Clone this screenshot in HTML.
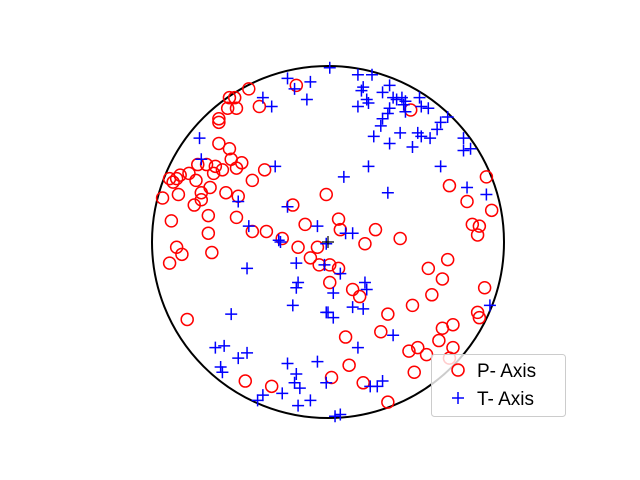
<!DOCTYPE html>
<html><head><meta charset="utf-8"><style>
body{margin:0;background:#fff;}
svg{display:block;font-family:"Liberation Sans","DejaVu Sans",sans-serif;}
</style></head><body>
<svg id="chart" width="640" height="480" viewBox="0 0 640 480">
<rect width="640" height="480" fill="#fff"/>
<circle cx="328" cy="242" r="176" fill="none" stroke="#000" stroke-width="2"/>
<g id="pts"></g>
<path d="M322 242h12M328 236v12" stroke="#000" stroke-width="1.2"/>
<g>
<rect x="431.5" y="354.5" width="134" height="62" rx="3" fill="#fff" fill-opacity="0.8" stroke="#ccc"/>
<circle cx="458" cy="370" r="6" fill="none" stroke="#f00" stroke-width="1.5"/>
<text x="477" y="377" font-size="19" fill="#000">P- Axis</text>
<path d="M452 398h12M458 392v12" stroke="#00f" stroke-width="1.5"/>
<text x="477" y="405" font-size="19" fill="#000">T- Axis</text>
</g>
</svg>
<script>
// Values in percent of primitive radius (x east, y north)
const pX=[-45,-56,-53,-57,-52,-62,-62,-39,-18,-62,-56,-55,-49,-64,-60,-52,-36,-69,-74,-79,-84,-86,-90,-88,-65,-75,-67,-72,-58,-43,-51,-85,-94,-72,-76,-68,-89,-52,-68,-43,-35,-26,-13,-20,-1,6,7,27,41,21,47,69,90,79,93,82,86,85,68,57,65,59,48,89,85,86,34,30,10,12,20,34,49,46,51,56,63,65,71,71,69,74,14,18,1,1,6,-6,-10,-17,-5,2,-86,-83,-90,-66,-80,-47,-32];
const pY=[87,82,82,76,76,70,68,77,89,56,53,47,45,43,41,42,41,44,44,39,38,36,36,34,39,35,31,28,28,35,26,27,25,24,21,15,12,14,5,6,6,2,10,21,27,13,7,7,2,-1,75,32,37,23,18,10,9,4,-10,-15,-21,-30,-36,-26,-40,-43,-41,-51,-54,-70,-80,-91,-74,-62,-60,-64,-56,-49,-47,-60,-66,-73,-27,-31,-23,-13,-15,-3,-9,-3,-13,-77,-3,-7,-12,-6,-44,-79,-82];
const tX=[-23,-10,-19,-12,-37,-32,-73,-72,-30,-51,-23,-45,-6,-28,1,17,25,20,19,35,31,37,39,42,44,43,52,22,23,17,35,34,44,57,53,68,64,62,51,53,58,41,30,31,26,35,48,77,77,81,64,23,9,34,79,90,10,14,-1,-46,-18,-17,-18,-20,-55,-1,-2,-64,-59,-46,-51,-61,-60,-23,-6,-18,-19,-16,-1,-26,-10,-17,-37,-40,-27,7,21,22,3,14,20,0,3,37,17,92,24,28,31,7,4];
const tY=[93,91,87,81,82,77,59,47,43,23,20,9,9,1,99,95,95,88,86,89,85,82,81,82,80,78,82,81,79,77,76,73,74,76,77,71,68,64,62,60,59,62,66,70,60,56,54,59,52,53,43,43,37,28,31,27,5,5,-1,-15,-12,-23,-26,-36,-41,-40,-13,-60,-59,-63,-66,-71,-74,-69,-68,-75,-80,-83,-80,-86,-90,-93,-87,-90,0,-18,-23,-27,-29,-37,-38,-40,-43,-53,-60,-36,-82,-82,-79,-98,-99];
const CX=328,CY=242,R=176;
const sx=v=>CX+v/100*R, sy=v=>CY-v/100*R;
const NS='http://www.w3.org/2000/svg', g=document.getElementById('pts');
pX.forEach((v,i)=>{
  const c=document.createElementNS(NS,'circle');
  c.setAttribute('cx',sx(v));c.setAttribute('cy',sy(pY[i]));c.setAttribute('r',6);
  c.setAttribute('fill','none');c.setAttribute('stroke','#f00');c.setAttribute('stroke-width',1.5);
  
  
  g.appendChild(c);
});
tX.forEach((v,i)=>{
  const x=sx(v),y=sy(tY[i]);
  const p=document.createElementNS(NS,'path');
  p.setAttribute('d',`M${x-6} ${y}h12M${x} ${y-6}v12`);
  p.setAttribute('stroke','#00f');p.setAttribute('stroke-width',1.5);
  
  
  g.appendChild(p);
});
</script>
</body></html>
